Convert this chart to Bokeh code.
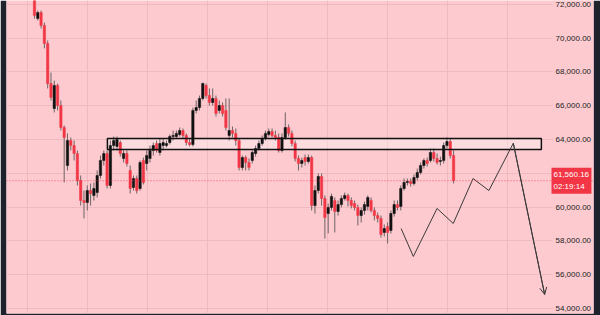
from bokeh.plotting import figure
from bokeh.models import (ColumnDataSource, FixedTicker, Span, Arrow, OpenHead, Range1d, Grid)
from bokeh.core.properties import value
from bokeh.embed import file_html
from bokeh.resources import INLINE

# ---------------- data (BTC/USD-like) ----------------
opens = [72520, 71160, 71510, 70750, 69680, 67310, 65830, 67200, 66010, 64710,
         62460, 63940, 63640, 63170, 61570, 60390, 60270, 60980, 60690, 60860,
         61870, 62760, 63170, 61280, 63640, 63590, 63820, 62880, 63170, 62170,
         61160, 61690, 61100, 62760, 62580, 62880, 63350, 63760, 63230, 63640,
         63640, 63820, 64180, 64180, 64300, 64530, 64240, 63820, 63700, 65720,
         65890, 66430, 67200, 66600, 66190, 66430, 65720, 66010, 65720, 64240,
         64530, 64360, 63940, 62340, 62930, 62640, 62760, 63170, 63470, 63760,
         64060, 64300, 64470, 64240, 64120, 63350, 64120, 64710, 64360, 63760,
         62880, 62580, 62930, 62700, 62930, 60090, 60980, 61810, 60510, 59620,
         59980, 60390, 59740, 60150, 60510, 60690, 60390, 60210, 59980, 59500,
         59800, 60040, 60390, 59800, 59500, 59330, 58500, 58850, 58620, 59620,
         60150, 60040, 61100, 61460, 61510, 61400, 61750, 62050, 62460, 62760,
         62760, 63230, 62880, 62700, 62760, 63640, 63880, 63050]
highs = [72820, 71630, 71630, 70920, 69860, 67960, 67490, 67310, 66310, 64830,
         64360, 64120, 63940, 63350, 61870, 60980, 61280, 61400, 61460, 62170,
         63050, 63350, 63350, 63940, 64180, 64180, 63940, 63350, 63350, 62460,
         61870, 61870, 62760, 62930, 63350, 63640, 63820, 63940, 64060, 64060,
         63940, 64300, 64530, 64530, 64710, 64650, 64360, 64060, 65890, 66310,
         66600, 67370, 67310, 67020, 67020, 66600, 66310, 66190, 66430, 66430,
         64770, 64650, 64060, 63050, 63050, 62880, 63350, 63640, 63940, 64240,
         64530, 64650, 64650, 64530, 64360, 64360, 65600, 64890, 64530, 63940,
         63050, 62930, 63110, 63110, 63050, 61280, 61990, 61990, 60690, 60210,
         60800, 60570, 60390, 60690, 60860, 60800, 60570, 60390, 60150, 59980,
         60330, 60690, 60570, 59980, 59680, 59500, 58970, 59090, 59800, 60390,
         60390, 61280, 61690, 61690, 61690, 61930, 62280, 62640, 62880, 62930,
         63470, 63470, 63170, 62990, 63820, 64120, 64060, 63350]
lows = [71160, 71040, 70570, 69390, 67020, 66310, 65600, 65720, 64530, 61460,
        62170, 63350, 62760, 61280, 60090, 59330, 59800, 60090, 60390, 60570,
        61690, 62460, 61100, 61100, 63350, 63350, 62990, 62640, 62400, 60800,
        60980, 60800, 60980, 61340, 62170, 62640, 63050, 63230, 63050, 63350,
        63530, 63700, 63940, 64060, 64180, 64060, 63640, 63590, 63590, 65540,
        65720, 66310, 66430, 66010, 66010, 65360, 65540, 65360, 64530, 63940,
        64120, 63640, 62170, 62170, 62170, 62170, 62580, 62990, 63350, 63640,
        63940, 64180, 64120, 63940, 63230, 63230, 64000, 64180, 63590, 62700,
        62170, 62340, 62460, 62580, 59800, 59620, 60800, 60090, 58140, 58440,
        59800, 58500, 59500, 59980, 60390, 60040, 59920, 59800, 58910, 59090,
        59560, 59800, 59680, 59210, 59090, 58200, 58260, 57850, 58440, 59440,
        59800, 59800, 60980, 61280, 61220, 61280, 61570, 61930, 62280, 62400,
        62640, 62700, 62520, 62460, 62580, 63470, 62880, 61400]
closes = [71340, 71510, 70750, 69680, 67310, 66490, 67200, 66010, 64710, 64120,
          63940, 63640, 63170, 61570, 60390, 60270, 60980, 60800, 61100, 61870,
          62760, 63170, 61280, 63640, 63940, 64000, 63170, 63170, 62580, 61100,
          61690, 60980, 62640, 61460, 63050, 63350, 63640, 63350, 63760, 63820,
          63760, 64180, 64240, 64360, 64530, 64240, 63820, 63700, 65720, 65890,
          66430, 67310, 66600, 66190, 66430, 65540, 66010, 65540, 64710, 64530,
          64360, 63940, 62340, 62930, 62640, 62340, 63230, 63470, 63760, 64060,
          64360, 64470, 64240, 64120, 63350, 64120, 64710, 64360, 63760, 62880,
          62580, 62760, 62700, 62930, 60090, 60980, 61810, 60510, 59380, 59980,
          60630, 59740, 60150, 60510, 60690, 60390, 60090, 59980, 59500, 59800,
          60150, 60570, 59800, 59500, 59330, 58380, 58730, 58500, 59620, 60150,
          59980, 61100, 61460, 61510, 61400, 61750, 62050, 62460, 62760, 62580,
          63230, 62880, 62640, 62760, 63640, 63880, 63050, 61560.16]

# resistance zone (bar index span, price span)
zone_left, zone_right = 22.1, 153.6
zone_top, zone_bottom = 64060, 63410

# projected path (bar index, price)
proj_x = [111.1, 114.8, 122.0, 126.9, 132.9, 137.7, 145.1, 154.6]
proj_y = [58730, 57080, 59920, 59030, 61690, 60980, 63780, 54830]

last_price = 61560.16
last_price_text = "61,560.16"
countdown_text = "02:19:14"
price_ticks = [54000, 56000, 58000, 60000, 62000, 64000, 66000, 68000, 70000, 72000]
price_labels = ["{:,.2f}".format(t) for t in price_ticks]
time_grid = [-2.1, 16.1, 34.2, 52.4, 70.6, 88.8, 107.0, 125.2, 143.3]

# ---------------- layout / styles ----------------
X_START, X_END = -8.48, 169.4        # bar-index range of the drawing area
SCALE_LEFT = 156.97                  # where the price scale strip begins
TAG_WIDTH = 11.8                     # price tag width, in bar-index units
TAG_HALF = 775                       # price tag half height, in price units
Y_START, Y_END = 53704, 72225
BG = "#fccacf"
DARK = "#1e222d"
RED = "#f23645"
BLACK = "#111111"
WICK = "#6e6466"
GRID = "#efb9bf"
FONT = "Liberation Sans"

idx = list(range(len(closes)))
src = ColumnDataSource(dict(
    x=idx, h=highs, l=lows,
    top=[max(a, b) for a, b in zip(opens, closes)],
    bot=[min(a, b) for a, b in zip(opens, closes)],
    col=[RED if c < o else BLACK for o, c in zip(opens, closes)],
))

p = figure(width=600, height=315,
           x_range=Range1d(X_START, X_END), y_range=Range1d(Y_START, Y_END),
           output_backend="svg", toolbar_location=None,
           x_axis_location=None, y_axis_location=None,
           min_border_left=6, min_border_right=7, min_border_top=0, min_border_bottom=2,
           background_fill_color=BG, border_fill_color=DARK, outline_line_color=None)

for g in list(p.grid):
    g.visible = False
p.add_layout(Grid(dimension=1, ticker=FixedTicker(ticks=price_ticks),
                  grid_line_color=GRID, grid_line_width=1))
p.add_layout(Grid(dimension=0, ticker=FixedTicker(ticks=time_grid),
                  grid_line_color=GRID, grid_line_width=1))

# price-scale strip (covers the grid on the right)
p.quad(left=[SCALE_LEFT], right=[X_END], bottom=[Y_START], top=[Y_END],
       fill_color=BG, line_color=None)

# zone fill
p.quad(left=[zone_left], right=[zone_right], top=[zone_top], bottom=[zone_bottom],
       fill_color="#ffffff", fill_alpha=0.35, line_color=None)

# candles
p.segment(x0="x", x1="x", y0="h", y1="l", source=src, line_color=WICK, line_width=1)
p.vbar(x="x", width=0.72, top="top", bottom="bot", source=src,
       fill_color="col", line_color="col", line_width=0.5)

# zone outline
p.quad(left=[zone_left], right=[zone_right], top=[zone_top], bottom=[zone_bottom],
       fill_color=None, line_color="#111111", line_width=1.5)

# last price dotted line
p.add_layout(Span(location=last_price, dimension="width", line_color=RED,
                  line_alpha=0.8, line_dash="1 2", line_width=1))

# projection path
p.line(proj_x, proj_y, line_color="#3a3a3a", line_width=1)
p.add_layout(Arrow(end=OpenHead(size=7, line_width=1, line_color="#3a3a3a"),
                   x_start=proj_x[-2], y_start=proj_y[-2],
                   x_end=proj_x[-1], y_end=proj_y[-1],
                   line_color="#3a3a3a", line_width=1))

# price scale labels
p.text(x=[SCALE_LEFT] * len(price_ticks), y=price_ticks, text=price_labels,
       x_offset=3, text_font=value(FONT), text_font_size="8px",
       text_color="#222222", text_align="left", text_baseline="middle")

# last-price tag
p.quad(left=[SCALE_LEFT - 0.3], right=[SCALE_LEFT + TAG_WIDTH],
       top=[last_price + TAG_HALF], bottom=[last_price - TAG_HALF],
       fill_color=RED, line_color=None)
p.text(x=[SCALE_LEFT, SCALE_LEFT], y=[last_price, last_price],
       text=[last_price_text, countdown_text], y_offset=[-6, 6], x_offset=1,
       text_font=value(FONT), text_font_size="8px", text_color="white",
       text_align="left", text_baseline="middle")

open("out.html", "w").write(file_html(p, INLINE))
